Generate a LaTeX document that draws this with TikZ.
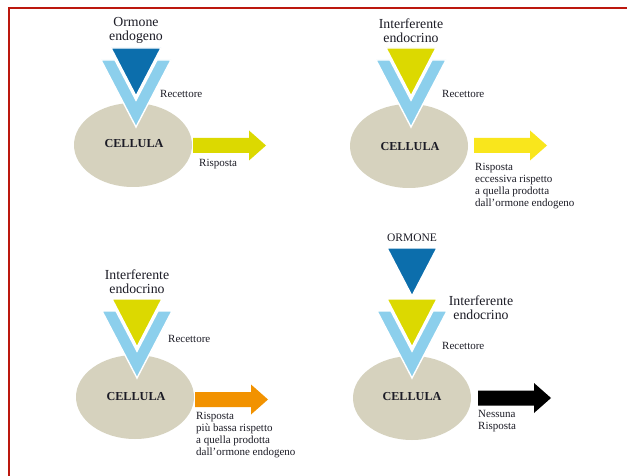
\documentclass[tikz,border=0pt]{standalone}
\usepackage{fontspec}
\setmainfont{Liberation Serif}
\usetikzlibrary{shapes.geometric}

\definecolor{framered}{RGB}{188,24,14}
\definecolor{hormone}{RGB}{12,110,172}
\definecolor{receptor}{RGB}{140,207,236}
\definecolor{disruptor}{RGB}{220,217,0}
\definecolor{cellfill}{RGB}{214,210,190}
\definecolor{strongyellow}{RGB}{249,230,28}
\definecolor{loworange}{RGB}{242,146,0}
\definecolor{ink}{RGB}{28,28,38}

\tikzset{
  cellbody/.style={ellipse, fill=cellfill, minimum width=118pt, minimum height=84pt, inner sep=0pt},
  celltext/.style={font=\fontsize{12.2}{14}\selectfont\bfseries, text=ink, inner sep=0pt},
  biglabel/.style={font=\fontsize{13.8}{13.2}\selectfont, text=ink, align=center, inner sep=0pt},
  smalllabel/.style={font=\fontsize{11}{12}\selectfont, text=ink, align=left, inner sep=0pt},
  % V-shaped receptor, origin at its lower tip
  pics/receptor/.style={code={
    \fill[receptor, draw=white, line width=1.4pt, line join=miter]
      (-35,-67) -- (0,0) -- (35,-67) -- (21,-67) -- (0,-26.8) -- (-21,-67) -- cycle;
  }},
  % downward triangle (hormone or disruptor), origin at its tip
  pics/ligand/.style={code={
    \fill[#1, draw=white, line width=1.4pt, line join=miter]
      (-25,-48) -- (25,-48) -- (0,0) -- cycle;
  }},
  % block arrow for the response, origin at the middle of its tail
  pics/response/.style={code={
    \fill[#1] (0,-7.5) -- (56,-7.5) -- (56,-15) -- (73,0) -- (56,15) -- (56,7.5) -- (0,7.5) -- cycle;
  }},
}

\begin{document}
\begin{tikzpicture}[x=1pt, y=-1pt]
\useasboundingbox (0,0) rectangle (627,476);
\fill[white] (0,0) rectangle (627,476);

% page frame
\draw[framered, line width=2pt, line join=miter] (9,477) -- (9,7.8) -- (628,7.8);

% ---- endogenous hormone: normal response
\node[cellbody] (cell1) at (133,145) {};
\pic at (136,127) {receptor};
\pic at (136,96) {ligand=hormone};
\pic at (193,145.5) {response=disruptor};
\node[celltext] (name1) at (134,144) {CELLULA};
\node[biglabel, anchor=north] (agent1) at (136,17.5) {Ormone\\endogeno};
\node[smalllabel, anchor=west] (rec1) at (160,94) {Recettore};
\node[smalllabel, anchor=north west] (resp1) at (199,159) {Risposta};

% ---- disruptor: excessive response
\node[cellbody] (cell2) at (409,146) {};
\pic at (411,127) {receptor};
\pic at (411,96) {ligand=disruptor};
\pic at (474,145.5) {response=strongyellow};
\node[celltext] (name2) at (410,147) {CELLULA};
\node[biglabel, anchor=north] (agent2) at (411,19) {Interferente\\endocrino};
\node[smalllabel, anchor=west] (rec2) at (442,94) {Recettore};
\node[smalllabel, anchor=north west] (resp2) at (475,163)
  {Risposta\\eccessiva rispetto\\a quella prodotta\\dall'ormone endogeno};

% ---- disruptor: weaker response
\node[cellbody] (cell3) at (135,397) {};
\pic at (137,378) {receptor};
\pic at (137,347) {ligand=disruptor};
\pic at (195,399.5) {response=loworange};
\node[celltext] (name3) at (136,397) {CELLULA};
\node[biglabel, anchor=north] (agent3) at (137,270) {Interferente\\endocrino};
\node[smalllabel, anchor=west] (rec3) at (168,339) {Recettore};
\node[smalllabel, anchor=north west] (resp3) at (196,412)
  {Risposta\\più bassa rispetto\\a quella prodotta\\dall'ormone endogeno};

% ---- disruptor blocks the hormone: no response
\node[cellbody] (cell4) at (412,398) {};
\pic at (412,378) {receptor};
\pic at (412,347) {ligand=disruptor};
\pic at (412,296) {ligand=hormone};
\pic at (478,398) {response=black};
\node[celltext] (name4) at (412,397) {CELLULA};
\node[biglabel, font=\fontsize{11.5}{13}\selectfont] (agent4) at (412,238) {ORMONE};
\node[biglabel, anchor=north] (agent4b) at (481,296) {Interferente\\endocrino};
\node[smalllabel, anchor=west] (rec4) at (442,346) {Recettore};
\node[smalllabel, anchor=north west] (resp4) at (478,410) {Nessuna\\Risposta};
\end{tikzpicture}
\end{document}
